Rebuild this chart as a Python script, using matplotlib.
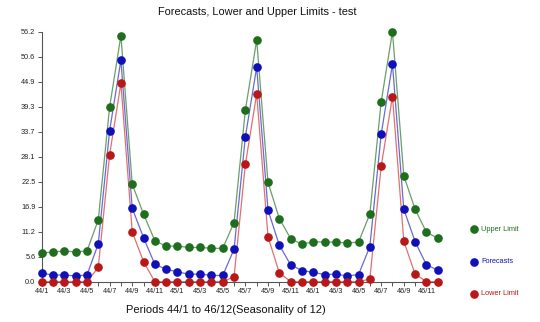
import numpy as np
import matplotlib.pyplot as plt

plt.rcParams['font.family'] = ['Liberation Sans', 'DejaVu Sans']

# periods 44/1 .. 46/12
periods = ['%d/%d' % (yr, m) for yr in (44, 45, 46) for m in range(1, 13)]

upper = [6.4, 6.7, 6.9, 6.7, 6.9, 13.9, 39.2, 55.3, 21.9, 15.2, 9.2, 8.0,
         8.0, 7.7, 7.7, 7.5, 7.5, 13.3, 38.6, 54.3, 22.3, 14.2, 9.7, 8.4,
         9.0, 8.9, 8.9, 8.7, 8.9, 15.2, 40.4, 56.2, 23.8, 16.3, 11.1, 9.8]
forecast = [1.9, 1.5, 1.5, 1.3, 1.5, 8.5, 33.9, 49.8, 16.5, 9.9, 3.9, 2.8,
            2.2, 1.7, 1.7, 1.4, 1.4, 7.3, 32.6, 48.2, 16.1, 8.2, 3.8, 2.5,
            2.1, 1.6, 1.7, 1.3, 1.6, 7.9, 33.1, 48.9, 16.3, 9.0, 3.8, 2.6]
lower = [0.0, 0.0, 0.0, 0.0, 0.0, 3.2, 28.5, 44.6, 11.2, 4.5, 0.0, 0.0,
         0.0, 0.0, 0.0, 0.0, 0.0, 1.1, 26.4, 42.2, 10.1, 2.0, 0.0, 0.0,
         0.0, 0.0, 0.0, 0.0, 0.0, 0.6, 25.9, 41.6, 9.1, 1.7, 0.0, 0.0]

ymax = 56.18
yticks = [ymax * k / 10 for k in range(11)]

series = [
    ('Upper Limit', upper, '#1e6e1e', '#6a9e6a'),
    ('Forecasts', forecast, '#1010b8', '#6a6ad0'),
    ('Lower Limit', lower, '#b81818', '#e07070'),
]

fig = plt.figure(figsize=(5.4, 3.22), dpi=100)
ax = fig.add_axes([41.7 / 540, 1 - 281.7 / 322, (440 - 41.7) / 540, 250 / 322])

x = np.arange(len(periods))
for name, vals, mc, lc in series:
    ax.plot(x, vals, '-', color=lc, lw=0.9, zorder=2)
    ax.plot(x, vals, 'o', color=mc, ms=5.2, mec=mc, zorder=3, clip_on=False)

ax.set_xlim(0, 35.2)
ax.set_ylim(0, ymax)
ax.set_yticks(yticks)
ax.set_yticklabels(['%.1f' % v for v in yticks])
ax.set_xticks(x)
ax.set_xticklabels([p if i % 2 == 0 else '' for i, p in enumerate(periods)])
ax.tick_params(axis='both', labelsize=5.3, length=3, width=0.7, color='#555555',
               labelcolor='#222222', pad=1.5)

for s in ('top', 'right'):
    ax.spines[s].set_visible(False)
for s in ('left', 'bottom'):
    ax.spines[s].set_color('#555555')
    ax.spines[s].set_linewidth(0.8)

# legend drawn as loose markers + coloured labels on the right
leg_y = [229.3, 261.7, 293.7]
for (name, vals, mc, lc), py in zip(series, leg_y):
    fy = 1 - py / 322
    fig.lines.append(plt.Line2D([474 / 540], [fy], marker='o', ms=5.2,
                                color=mc, transform=fig.transFigure))
    fig.text(481 / 540, fy, name, color=mc, fontsize=5.3, va='center', ha='left')

fig.text(257 / 540, 1 - 12 / 322, 'Forecasts, Lower and Upper Limits - test',
         ha='center', va='center', fontsize=7.9, color='#111111')
fig.text(226 / 540, 1 - 310 / 322, 'Periods 44/1 to 46/12(Seasonality of 12)',
         ha='center', va='center', fontsize=8, color='#111111')

fig.savefig('out.png', dpi=100)
